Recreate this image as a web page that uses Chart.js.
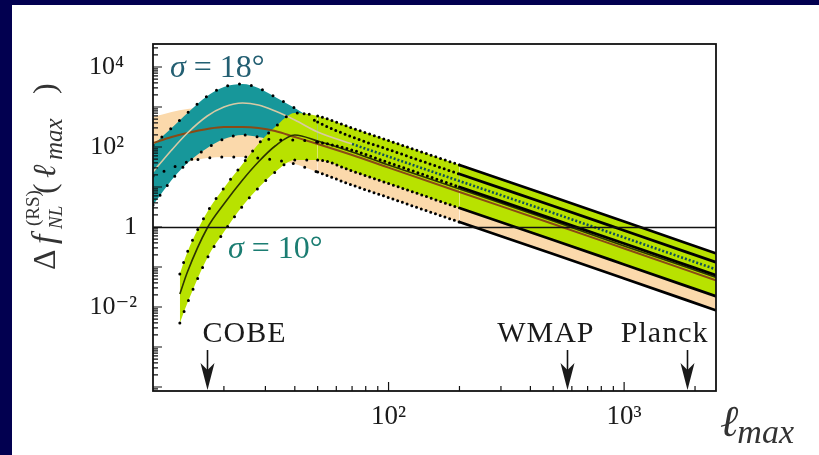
<!DOCTYPE html>
<html>
<head>
<meta charset="utf-8">
<script src="https://cdn.jsdelivr.net/npm/chart.js@4.4.1/dist/chart.umd.min.js"></script>
<style>
  html, body { margin: 0; padding: 0; background: #fff; }
  body { width: 819px; height: 455px; overflow: hidden; position: relative; }
  .bar { position: absolute; background: #020050; }
  #barTop { left: 0; top: 0; width: 819px; height: 5px; }
  #barLeft { left: 0; top: 0; width: 12px; height: 455px; }
  #wrap { position: absolute; left: 12px; top: 5px; width: 807px; height: 450px; background: #fff; }
</style>
</head>
<body>
<div class="bar" id="barTop"></div>
<div class="bar" id="barLeft"></div>
<div id="wrap"><canvas id="rsChart"></canvas></div>
<script>
// multipole samples (l_max)
const ellWide = [10, 12, 14, 17, 20, 24, 28, 33, 40, 50, 70, 100, 200, 500, 1000, 2500];
const ellGreen = [13, 14, 17, 20, 24, 28, 33, 40, 50, 70, 100, 200, 500, 1000, 2500];

// sigma = 18 deg (teal band)
const tealUpper = [112, 299, 708, 1884, 3162, 3758, 2985, 1778, 944, 422, 178, 86.1, 21.1, 3.35, 0.818, 0.126];
const tealMid   = [23.7, 84.1, 224, 596, 1000, 1259, 1122, 794, 473, 237, 119, 57.5, 14.1, 2.24, 0.546, 0.0841];
const tealLower = [3.55, 15.0, 39.8, 94.4, 158, 200, 178, 150, 150, 133, 84.1, 40.7, 10.0, 1.58, 0.387, 0.0596];

// intermediate band (peach)
const peachUpper = [562, 750, 891, 1000, 1059, 1059, 944, 750, 562, 398, 211, 106, 26.6, 4.22, 1.06, 0.158];
const peachMid   = [126, 178, 224, 282, 316, 316, 299, 251, 178, 119, 63.1, 30.5, 7.50, 1.19, 0.290, 0.0447];
const peachLower = [18.8, 29.9, 42.2, 53.1, 56.2, 56.2, 53.1, 47.3, 37.6, 23.7, 11.2, 5.43, 1.33, 0.211, 0.0516, 0.00794];

// sigma = 10 deg (green band)
const greenUpper = [0.0668, 0.237, 2.37, 9.44, 37.6, 119, 316, 708, 596, 299, 145, 35.5, 5.62, 1.37, 0.211];
const greenMid   = [0.0211, 0.075, 0.944, 3.76, 15.0, 42.2, 106, 200, 141, 75.0, 35.5, 8.91, 1.41, 0.335, 0.0531];
const greenLower = [0.00398, 0.0126, 0.168, 0.750, 3.35, 9.44, 23.7, 47.3, 47.3, 25.1, 12.2, 2.99, 0.473, 0.1155, 0.0178];

// experiments resolution limits
const surveyNames = ['COBE', 'WMAP', 'Planck'];
const surveyEll = [17, 570, 1850];

// axes
const xRange = [10, 2455];
const yRange = [7.94e-5, 37600];
const xTickPowers = [2, 3];
const yTickPowers = [-2, 0, 2, 4];
const unityLine = 1;

const SERIF = "'Liberation Serif', 'DejaVu Serif', serif";
const TEAL = '#17979a';
const PEACH = '#fbd9ab';
const GREEN = '#b8e200';

const SUP = { '-': '\u207B', '0': '\u2070', '1': '\u00B9', '2': '\u00B2', '3': '\u00B3', '4': '\u2074' };

function powerLabel(p) {
    if (p === 0) return '1';
    return '10' + String(p).split('').map(c => SUP[c]).join('');
}

function tickLabel(value, powers, padPositive) {
    const lg = Math.log10(value);
    const p = Math.round(lg);
    if (Math.abs(lg - p) > 1e-6) return '';
    if (!powers.includes(p)) return '';
    return powerLabel(p) + (padPositive && p > 0 ? '\u2002' : '');
}

function mantissa(v) {
    const e = Math.floor(Math.log10(v) + 1e-9);
    const m = v / Math.pow(10, e);
    return Math.abs(m - Math.round(m)) < 1e-6 ? Math.round(m) : 0;
}

function pts(ell, vals) {
    return vals.map((v, i) => ({ x: ell[i], y: v }));
}

// sparse dots on the low-l part, dense (solid) at high l
const dottedSeg = {
    borderDash: ctx => ctx.p0.parsed.x < 45 ? [0, 12] : (ctx.p0.parsed.x < 150 ? [0, 5] : []),
    borderWidth: ctx => ctx.p0.parsed.x < 150 ? 3 : 2.8
};

function boundary(data, fillTo, color, extra) {
    return Object.assign({
        data: data,
        borderColor: '#000',
        borderWidth: 2.8,
        borderCapStyle: 'round',
        backgroundColor: color || 'transparent',
        fill: fillTo === undefined ? false : { target: fillTo },
        cubicInterpolationMode: 'monotone',
        pointRadius: 0,
        segment: dottedSeg
    }, extra || {});
}

const decorations = {
    id: 'decorations',
    afterDatasetsDraw(chart) {
        const { ctx, chartArea: a, scales: { x, y } } = chart;
        ctx.save();

        // f_NL = 1 reference line
        const yu = Math.round(y.getPixelForValue(unityLine)) + 0.5;
        ctx.strokeStyle = '#111';
        ctx.lineWidth = 1.6;
        ctx.beginPath();
        ctx.moveTo(a.left, yu);
        ctx.lineTo(a.right, yu);
        ctx.stroke();

        // inward ticks
        ctx.lineWidth = 1.2;
        ctx.beginPath();
        x.ticks.forEach(t => {
            const m = mantissa(t.value);
            if (!m) return;
            const px = x.getPixelForValue(t.value);
            if (px < a.left + 1 || px > a.right - 1) return;
            const len = m === 1 ? 9 : 5;
            ctx.moveTo(px, a.bottom);
            ctx.lineTo(px, a.bottom - len);
        });
        y.ticks.forEach(t => {
            const m = mantissa(t.value);
            if (!m) return;
            const py = y.getPixelForValue(t.value);
            if (py < a.top + 1 || py > a.bottom - 1) return;
            const len = m === 1 ? 9 : 5;
            ctx.moveTo(a.left, py);
            ctx.lineTo(a.left + len, py);
        });
        ctx.stroke();

        // frame
        ctx.lineWidth = 1.8;
        ctx.strokeStyle = '#111';
        ctx.strokeRect(a.left, a.top, a.right - a.left, a.bottom - a.top);

        // experiment arrows and labels
        const shifts = [['left', -5], ['right', 27], ['right', 21]];
        ctx.fillStyle = '#1a1a1a';
        ctx.font = '30px ' + SERIF;
        ctx.letterSpacing = '1px';
        ctx.textBaseline = 'alphabetic';
        surveyEll.forEach((ell, i) => {
            const px = Math.round(x.getPixelForValue(ell)) + 0.5;
            ctx.lineWidth = 1.6;
            ctx.beginPath();
            ctx.moveTo(px, a.bottom - 41);
            ctx.lineTo(px, a.bottom - 14);
            ctx.stroke();
            ctx.beginPath();
            ctx.moveTo(px - 7, a.bottom - 28);
            ctx.lineTo(px, a.bottom - 21);
            ctx.lineTo(px + 7, a.bottom - 28);
            ctx.lineTo(px, a.bottom - 1);
            ctx.closePath();
            ctx.fill();
            ctx.textAlign = shifts[i][0];
            ctx.fillText(surveyNames[i], px + shifts[i][1], a.bottom - 49);
        });
        ctx.letterSpacing = '0px';

        // sigma annotations
        function sigmaText(label, color, px, py) {
            ctx.fillStyle = color;
            ctx.textAlign = 'left';
            ctx.font = 'italic 32px ' + SERIF;
            ctx.fillText('\u03C3', px, py);
            const w = ctx.measureText('\u03C3').width;
            ctx.font = '32px ' + SERIF;
            ctx.fillText(label, px + w, py);
        }
        sigmaText(' = 18\u00B0', '#235f72', a.left + 17, a.top + 33);
        sigmaText(' = 10\u00B0', '#1b7d72', a.left + 75, a.top + 214);

        // x axis title: l_max
        ctx.fillStyle = '#333';
        ctx.textAlign = 'left';
        ctx.font = 'italic 44px ' + SERIF;
        ctx.fillText('\u2113', a.right + 4, a.bottom + 45);
        const lw = ctx.measureText('\u2113').width;
        ctx.font = 'italic 34px ' + SERIF;
        ctx.fillText('max', a.right + 3 + lw, a.bottom + 52);

        // y axis title: Delta f_NL^(RS)(l_max), rotated
        ctx.save();
        ctx.translate(43, 265);
        ctx.rotate(-Math.PI / 2);
        ctx.fillStyle = '#333';
        const pieces = [
            ['\u0394', '32px', 0, 0],
            ['f', 'italic 34px', 26, 0],
            ['(RS)', '19px', 44, -16],
            ['NL', 'italic 19px', 41, 7],
            ['(', '32px', 76, 0],
            ['\u2113', 'italic 32px', 92, 0],
            ['max', 'italic 25px', 110, 7],
            [')', '32px', 176, 0]
        ];
        pieces.forEach(p => {
            ctx.font = p[1] + ' ' + SERIF;
            ctx.fillText(p[0], p[2], p[3]);
        });
        ctx.restore();

        ctx.restore();
    }
};

const ctx = document.getElementById('rsChart').getContext('2d');
new Chart(ctx, {
    type: 'line',
    data: {
        datasets: [
            boundary(pts(ellGreen, greenUpper), 1, GREEN),
            boundary(pts(ellGreen, greenLower)),
            boundary(pts(ellWide, tealUpper), 3, TEAL),
            boundary(pts(ellWide, tealLower)),
            boundary(pts(ellWide, peachUpper), 5, PEACH, { borderWidth: 0, segment: {} }),
            boundary(pts(ellWide, peachLower)),
            {
                data: pts(ellGreen, greenMid),
                borderColor: '#2c3400',
                borderWidth: 1.6,
                fill: false,
                cubicInterpolationMode: 'monotone',
                pointRadius: 0
            },
            {
                data: pts(ellWide, tealMid),
                borderColor: '#d8c9a4',
                borderWidth: 1.6,
                fill: false,
                cubicInterpolationMode: 'monotone',
                pointRadius: 0,
                segment: {
                    borderColor: c => c.p0.parsed.x < 60 ? '#d8c9a4' : '#0e4f5a',
                    borderDash: c => c.p0.parsed.x < 60 ? [] : [2, 2],
                    borderWidth: c => c.p0.parsed.x < 60 ? 1.6 : 2.6
                }
            },
            {
                data: pts(ellWide, peachMid),
                borderColor: '#8a4a14',
                borderWidth: 2,
                fill: false,
                cubicInterpolationMode: 'monotone',
                pointRadius: 0
            }
        ]
    },
    options: {
        responsive: true,
        maintainAspectRatio: false,
        animation: false,
        devicePixelRatio: 1,
        layout: { padding: { top: 39, right: 103, bottom: 0, left: 0 } },
        plugins: {
            legend: { display: false },
            tooltip: { enabled: false },
            filler: { propagate: false, drawTime: 'beforeDatasetsDraw' }
        },
        scales: {
            x: {
                type: 'logarithmic',
                min: xRange[0],
                max: xRange[1],
                border: { display: false },
                grid: { display: false, drawTicks: false },
                ticks: {
                    autoSkip: false,
                    maxRotation: 0,
                    padding: 10,
                    color: '#1a1a1a',
                    font: { family: SERIF, size: 27 },
                    callback: v => tickLabel(v, xTickPowers, false)
                },
                afterFit: s => { s.height = 64; }
            },
            y: {
                type: 'logarithmic',
                min: yRange[0],
                max: yRange[1],
                border: { display: false },
                grid: { display: false, drawTicks: false },
                ticks: {
                    autoSkip: false,
                    padding: 16,
                    color: '#1a1a1a',
                    font: { family: SERIF, size: 26 },
                    callback: v => tickLabel(v, yTickPowers, true)
                },
                afterFit: s => { s.width = 141; }
            }
        }
    },
    plugins: [decorations]
});
</script>
</body>
</html>
